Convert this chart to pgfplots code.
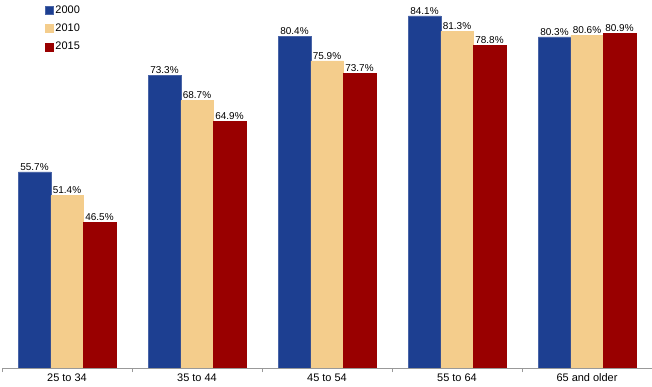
\documentclass[border=0pt]{standalone}
\usepackage{pgfplots}
\pgfplotsset{compat=1.18}
\usepackage{fontspec}
\setmainfont{Liberation Sans}
\definecolor{cblue}{HTML}{1D3F91}
\definecolor{ctan}{HTML}{F4CD8C}
\definecolor{cred}{HTML}{990000}
\begin{document}
\begin{tikzpicture}
\begin{axis}[
  scale only axis,
  width=650bp, height=368bp,
  ybar=0pt, bar width=32.5bp,
  ymin=20, ymax=87.0,
  xmin=-0.5, xmax=4.5,
  axis x line=bottom, axis y line=none,
  axis line style={-, draw=gray!80},
  xtick={0,1,2,3,4},
  xticklabels={25 to 34,35 to 44,45 to 54,55 to 64,65 and older},
  major tick length=0pt,
  minor xtick={-0.5,0.5,1.5,2.5,3.5,4.5},
  minor tick length=4bp,
  xtick style={draw=gray!80},
  tick align=outside,
  x tick label style={font=\fontsize{11}{12}\selectfont, yshift=-2bp},
  nodes near coords={\pgfmathprintnumber[fixed,precision=1,fixed zerofill,assume math mode=true]{\pgfplotspointmeta}\%},
  nodes near coords style={font=\fontsize{10}{11}\selectfont, black, inner sep=1.5bp},
  legend style={at={(axis description cs:0.066,0.99)}, anchor=north west, draw=none, fill=none,
    font=\fontsize{11}{12}\selectfont, row sep=5bp, inner sep=0pt},
  legend cell align=left,
  legend image code/.code={\fill[#1] (0bp,-4bp) rectangle (8bp,4bp);},
]
\addplot[fill=cblue, draw=cblue!80!white] coordinates {(0,55.7) (1,73.3) (2,80.4) (3,84.1) (4,80.3)};
\addplot[fill=ctan, draw=ctan] coordinates {(0,51.4) (1,68.7) (2,75.9) (3,81.3) (4,80.6)};
\addplot[fill=cred, draw=cred] coordinates {(0,46.5) (1,64.9) (2,73.7) (3,78.8) (4,80.9)};
\legend{2000,2010,2015}
\end{axis}
\pgfresetboundingbox
\path[use as bounding box] (-2bp,-19bp) rectangle (650bp,368bp);
\end{tikzpicture}
\end{document}
